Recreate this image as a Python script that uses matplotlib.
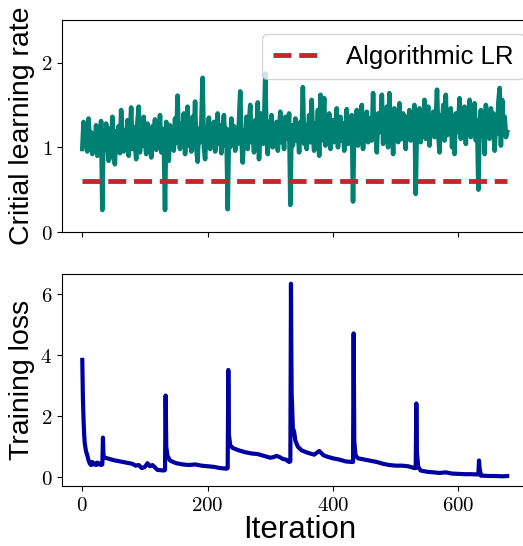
import numpy as np
import matplotlib
matplotlib.use("Agg")
import matplotlib.pyplot as plt
from matplotlib.ticker import FuncFormatter

plt.rcParams["mathtext.fontset"] = "cm"
plt.rcParams["font.family"] = ["Liberation Sans", "DejaVu Sans"]

# critical learning rate, sampled every 2 iterations
crit_lr = [
    0.98, 1.30, 1.02, 1.22, 0.95, 1.34, 1.05, 1.18, 0.92, 1.12,
    1.00, 1.26, 0.90, 1.15, 1.05, 1.31, 0.26, 1.20, 0.97, 1.28,
    1.08, 0.84, 1.22, 0.88, 1.36, 1.02, 0.80, 1.19, 1.06, 1.25,
    0.93, 1.44, 1.10, 0.95, 1.20, 1.03, 1.32, 0.90, 1.15, 1.47,
    0.98, 1.24, 1.06, 0.86, 1.30, 1.48, 0.94, 1.14, 1.02, 1.36,
    1.08, 0.92, 1.28, 1.00, 1.18, 0.88, 1.25, 1.06, 1.33, 0.97,
    1.16, 1.04, 1.38, 0.94, 1.22, 1.10, 0.26, 1.30, 1.00, 0.84,
    1.26, 1.08, 1.20, 0.96, 1.34, 1.05, 1.61, 1.12, 0.98, 1.28,
    1.06, 1.40, 0.92, 1.18, 1.48, 1.02, 1.25, 0.95, 1.36, 1.10,
    1.54, 0.98, 0.83, 1.22, 1.06, 1.30, 1.82, 1.00, 0.86, 1.24,
    1.12, 1.35, 0.98, 1.20, 1.08, 1.30, 0.95, 1.16, 1.40, 1.04,
    1.26, 0.93, 1.18, 1.38, 1.02, 1.22, 0.27, 1.14, 1.00, 1.34,
    1.10, 1.25, 0.96, 1.16, 1.04, 1.30, 1.66, 1.08, 0.82, 1.20,
    1.02, 1.36, 0.98, 1.28, 1.50, 1.06, 1.22, 0.94, 1.32, 1.12,
    1.53, 0.86, 1.18, 1.40, 1.04, 1.26, 1.87, 1.10, 0.92, 1.30,
    1.14, 1.38, 1.00, 1.22, 1.08, 1.30, 0.96, 1.18, 1.42, 1.06,
    1.24, 0.98, 1.36, 1.10, 1.20, 1.40, 0.32, 1.26, 1.02, 1.16,
    1.34, 1.08, 1.22, 0.94, 1.30, 1.12, 1.71, 1.04, 1.26, 0.98,
    1.18, 1.38, 1.06, 1.56, 1.14, 0.96, 1.28, 1.10, 1.44, 0.90,
    1.62, 1.08, 1.30, 1.58, 1.02, 1.24, 1.12, 1.40, 0.98, 1.20,
    1.32, 1.06, 1.24, 1.46, 1.00, 1.18, 1.36, 1.08, 1.28, 0.96,
    1.22, 1.45, 1.04, 1.30, 1.14, 1.38, 0.36, 1.26, 1.10, 1.44,
    1.02, 1.30, 1.16, 1.50, 0.98, 1.26, 1.12, 1.42, 1.06, 1.34,
    1.20, 1.08, 1.64, 1.14, 1.32, 0.94, 1.40, 1.18, 1.28, 1.62,
    1.04, 1.36, 1.12, 1.48, 1.00, 1.64, 1.20, 1.30, 0.92, 1.46,
    1.14, 1.34, 1.06, 1.52, 1.22, 1.10, 1.40, 1.26, 0.98, 1.36,
    1.18, 1.44, 1.08, 1.30, 1.20, 1.50, 0.45, 1.28, 1.12, 1.46,
    1.06, 1.38, 1.24, 1.56, 1.10, 1.32, 1.48, 1.02, 1.34, 1.20,
    1.42, 1.12, 1.30, 1.68, 1.16, 0.94, 1.38, 1.22, 1.50, 1.08,
    1.62, 1.14, 1.36, 1.24, 1.46, 1.00, 1.30, 0.92, 1.40, 1.18,
    1.28, 1.58, 1.10, 1.34, 1.22, 1.48, 1.04, 1.36, 1.16, 1.56,
    1.12, 1.40, 1.26, 1.52, 1.08, 1.32, 0.50, 1.24, 1.44, 1.14,
    1.36, 0.92, 1.50, 1.20, 1.32, 1.10, 1.46, 1.26, 1.40, 0.96,
    1.30, 1.16, 1.54, 1.70, 1.02, 1.56, 1.24, 1.36, 1.12, 1.18,
]
crit_iters = np.arange(len(crit_lr)) * 2
algo_lr = 0.6

# training loss, key points
loss_iters = [
    0, 1, 2, 3, 4, 6, 8, 10, 12, 14, 16, 18, 20, 22, 24, 26, 28, 30, 32,
    33, 34, 36, 40, 50, 60, 70, 80, 85, 90, 95, 100, 104, 108, 112, 120, 130, 132,
    133, 134, 136, 140, 145, 150, 160, 170, 180, 190, 200, 210, 220, 230, 232,
    233, 234, 236, 240, 250, 260, 270, 280, 290, 300, 305, 310, 315, 320, 325, 330, 332,
    333, 334, 336, 338, 340, 344, 350, 360, 370, 378, 385, 390, 400, 410, 420, 430, 432,
    433, 434, 436, 440, 450, 460, 470, 480, 490, 500, 510, 520, 530, 532,
    533, 534, 536, 540, 550, 560, 570, 580, 590, 600, 610, 620, 630, 632,
    633, 634, 636, 640, 650, 660, 670, 678,
]
loss = [
    3.85, 2.60, 1.90, 1.40, 1.10, 0.85, 0.72, 0.55, 0.45, 0.40, 0.50, 0.42, 0.45, 0.40, 0.48, 0.42, 0.45, 0.40, 0.42,
    1.30, 0.62, 0.64, 0.62, 0.56, 0.52, 0.48, 0.44, 0.38, 0.40, 0.30, 0.34, 0.46, 0.36, 0.40, 0.24, 0.22, 0.24,
    2.68, 1.00, 0.70, 0.55, 0.50, 0.46, 0.42, 0.40, 0.42, 0.38, 0.36, 0.34, 0.30, 0.28, 0.30,
    3.52, 1.40, 1.05, 0.96, 0.88, 0.82, 0.78, 0.76, 0.70, 0.64, 0.66, 0.70, 0.66, 0.60, 0.58, 0.50, 0.52,
    6.35, 2.80, 1.60, 1.50, 1.20, 1.00, 0.88, 0.80, 0.74, 0.86, 0.72, 0.68, 0.62, 0.58, 0.52, 0.50, 0.50,
    4.72, 1.20, 0.72, 0.62, 0.58, 0.54, 0.50, 0.44, 0.40, 0.38, 0.38, 0.36, 0.30, 0.30,
    2.42, 0.80, 0.34, 0.22, 0.18, 0.16, 0.14, 0.16, 0.12, 0.11, 0.10, 0.10, 0.09, 0.10,
    0.55, 0.30, 0.05, 0.05, 0.04, 0.04, 0.03, 0.04,
]

fig = plt.figure(figsize=(5.23, 5.46), dpi=100)
ax1 = fig.add_axes([0.1185, 0.575, 0.910, 0.388])
ax2 = fig.add_axes([0.1185, 0.110, 0.910, 0.388], sharex=ax1)

ax1.plot(crit_iters, crit_lr, color="#008072", lw=3.3)
ax1.plot([crit_iters[0], crit_iters[-1]], [algo_lr, algo_lr],
         color="#c8242f", lw=3.5, ls="--", label="Algorithmic LR")
ax1.set_ylim(0, 2.5)
ax1.set_yticks([0, 1, 2])
ax1.set_ylabel("Critial learning rate", fontsize=20.5)
ax1.legend(loc="upper right", fontsize=18.5, handlelength=1.95,
           handletextpad=0.9, borderaxespad=0.55)
ax1.tick_params(labelbottom=False)

ax2.plot(loss_iters, loss, color="#0000a0", lw=3)
ax2.set_xlim(-32.4, 727)
ax2.set_yticks([0, 2, 4, 6])
ax2.set_xticks([0, 200, 400, 600])
ax2.set_ylabel("Training loss", fontsize=20.5)
ax2.set_xlabel("Iteration", fontsize=22.5, labelpad=0)

fmt = FuncFormatter(lambda v, pos: f"${v:g}$")
for ax in (ax1, ax2):
    ax.yaxis.set_major_formatter(fmt)
    ax.xaxis.set_major_formatter(fmt)
    ax.tick_params(labelsize=15)

fig.savefig("out.png", dpi=100)
